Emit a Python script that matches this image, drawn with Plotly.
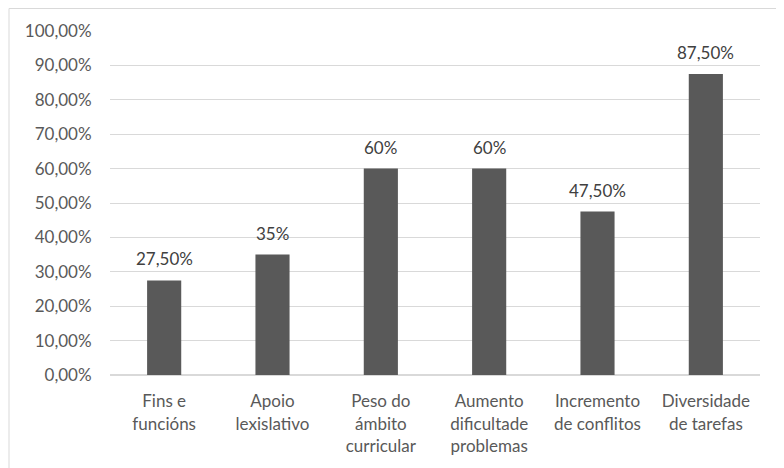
import plotly.graph_objects as go

categories = ["Fins e<br>funcións", "Apoio<br>lexislativo", "Peso do<br>ámbito<br>curricular",
              "Aumento<br>dificultade<br>problemas", "Incremento<br>de conflitos", "Diversidade<br>de tarefas"]
values = [0.275, 0.35, 0.60, 0.60, 0.475, 0.875]
value_labels = ["27,50%", "35%", "60%", "60%", "47,50%", "87,50%"]
y_ticks = [0, 0.1, 0.2, 0.3, 0.4, 0.5, 0.6, 0.7, 0.8, 0.9, 1.0]

# page body has an 8px margin; figure is sized to fit the window
W, H = 776, 460
ml, mr, mt, mb = 102, 24, 23, 93
pw, ph = W - ml - mr, H - mt - mb

fig = go.Figure(go.Bar(
    x=categories, y=values, marker=dict(color="#595959", line=dict(width=0)), width=0.315,
))

annotations = [dict(x=c, y=v, text=t, xref="x", yref="y", showarrow=False,
                    yanchor="bottom", yshift=9, font=dict(size=17, color="#404040"))
               for c, v, t in zip(categories, values, value_labels)]

fig.update_layout(
    width=W, height=H, margin=dict(l=ml, r=mr, t=mt, b=mb, autoexpand=False),
    paper_bgcolor="white", plot_bgcolor="white", separators=",.",
    font=dict(family="Lato, Calibri, sans-serif", size=17, color="#595959"),
    showlegend=False, annotations=annotations,
    xaxis=dict(showgrid=False, showline=False, zeroline=False, ticks="outside", ticklen=11,
               tickcolor="rgba(0,0,0,0)", tickfont=dict(size=17, color="#595959")),
    yaxis=dict(range=[0, 1.0], tickvals=y_ticks, tickformat=".2%", showgrid=True,
               gridcolor="#d9d9d9", gridwidth=1, zeroline=True, zerolinecolor="#d9d9d9",
               showline=False, ticks="outside", ticklen=14, tickcolor="rgba(0,0,0,0)",
               tickfont=dict(size=17, color="#595959")),
    shapes=[dict(type="rect", xref="paper", yref="paper",
                 x0=(1 - ml) / pw, x1=(772 - ml) / pw,
                 y0=(H - mb - 470) / ph, y1=(H - mb - 0.5) / ph,
                 line=dict(color="#d9d9d9", width=1), fillcolor="rgba(0,0,0,0)", layer="below")],
)

fig.write_html("out.html")
